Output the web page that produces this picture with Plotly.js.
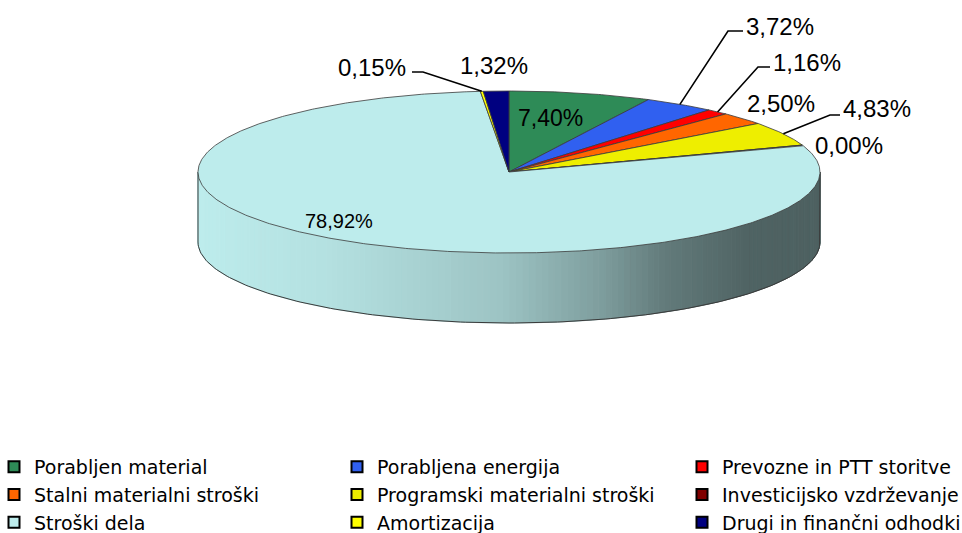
<!DOCTYPE html>
<html>
<head>
<meta charset="utf-8">
<script src="https://cdn.plot.ly/plotly-3.0.1.min.js"></script>
<style>html,body{margin:0;padding:0;background:#fff;}#chart{width:962px;height:533px;}</style>
</head>
<body>
<div id="chart"></div>
<script>
// ---- data ----
const categories = ['Porabljen material', 'Porabljena energija', 'Prevozne in PTT storitve',
  'Stalni materialni stroški', 'Programski materialni stroški', 'Investicijsko vzdrževanje',
  'Stroški dela', 'Amortizacija', 'Drugi in finančni odhodki'];
const shares = [7.40, 3.72, 1.16, 2.50, 4.83, 0.00, 78.92, 0.15, 1.32];

// ---- style ----
const sliceColors = ['#2e8b57', '#3060f0', '#ff0000', '#ff6600', '#eeee00', '#800000', '#bdecec', '#ffff00', '#000080'];
const CX = 509, CY = 172, RX = 311, RY = 81, DEPTH = 70;
const OUTLINE = '#3a3a3a';
// shading of the cylinder wall along x (u = -1 left .. 1 right)
const shadeStops = [[-1, 1.0], [-0.58, 0.95], [-0.03, 0.83], [0.29, 0.67], [0.5, 0.52], [0.77, 0.42], [1, 0.41]];
const labelPlacement = [
  {x: 550, y: 118, size: 23},
  {x: 744, y: 26, anchor: 'left', elbow: [728, 31], end: [743, 31]},
  {x: 771, y: 62, anchor: 'left', elbow: [758, 67], end: [770, 67]},
  {x: 781, y: 103},
  {x: 841, y: 108, anchor: 'left', elbow: [830, 115], end: [840, 115]},
  {x: 849, y: 145},
  {x: 339, y: 221, size: 20},
  {x: 408, y: 67, anchor: 'right', elbow: [423, 72], end: [412, 72]},
  {x: 494, y: 65}
];
const legendCols = [
  {name: 'legend', x: -6},
  {name: 'legend2', x: 337},
  {name: 'legend3', x: 682}
];
const LEGEND_TOP = 448;

// ---- geometry helpers ----
const D2R = Math.PI / 180;
function topPt(t) { return [CX + RX * Math.sin(t * D2R), CY - RY * Math.cos(t * D2R)]; }
function bottomPt(t) { const p = topPt(t); return [p[0], p[1] + DEPTH]; }
function shade(u) {
  for (let i = 1; i < shadeStops.length; i++) {
    if (u <= shadeStops[i][0]) {
      const [u0, f0] = shadeStops[i - 1], [u1, f1] = shadeStops[i];
      return f0 + (f1 - f0) * (u - u0) / (u1 - u0);
    }
  }
  return shadeStops[shadeStops.length - 1][1];
}
function scaleColor(hex, f) {
  const n = parseInt(hex.slice(1), 16);
  const r = Math.round(((n >> 16) & 255) * f), g = Math.round(((n >> 8) & 255) * f), b = Math.round((n & 255) * f);
  return 'rgb(' + r + ',' + g + ',' + b + ')';
}

const total = shares.reduce((a, b) => a + b, 0);
const starts = [], ends = [];
let acc = 0;
shares.forEach(v => { starts.push(acc / total * 360); acc += v; ends.push(acc / total * 360); });

const traces = [];

// cylinder wall (front half only, 90..270 deg)
shares.forEach((v, i) => {
  const a0 = Math.max(starts[i], 90), a1 = Math.min(ends[i], 270);
  if (a1 <= a0) return;
  const n = Math.max(1, Math.ceil((a1 - a0) / 1.2));
  for (let k = 0; k < n; k++) {
    const t0 = a0 + (a1 - a0) * k / n, t1 = a0 + (a1 - a0) * (k + 1) / n;
    const xs = [], ys = [];
    for (let j = 0; j <= 3; j++) { const p = topPt(t0 + (t1 - t0) * j / 3); xs.push(p[0]); ys.push(p[1]); }
    for (let j = 3; j >= 0; j--) { const p = bottomPt(t0 + (t1 - t0) * j / 3); xs.push(p[0]); ys.push(p[1]); }
    xs.push(xs[0]); ys.push(ys[0]);
    const c = scaleColor(sliceColors[i], shade(Math.sin((t0 + t1) / 2 * D2R)));
    traces.push({x: xs, y: ys, type: 'scatter', mode: 'lines', fill: 'toself', fillcolor: c,
      line: {color: c, width: 1}, hoverinfo: 'skip', showlegend: false});
  }
});

// wall outline
(function () {
  const xs = [], ys = [];
  let p = topPt(90); xs.push(p[0]); ys.push(p[1]);
  for (let t = 90; t <= 270; t += 1) { p = bottomPt(t); xs.push(p[0]); ys.push(p[1]); }
  p = topPt(270); xs.push(p[0]); ys.push(p[1]);
  traces.push({x: xs, y: ys, type: 'scatter', mode: 'lines', line: {color: OUTLINE, width: 1},
    hoverinfo: 'skip', showlegend: false});
})();

// top surface slices
shares.forEach((v, i) => {
  const xs = [CX], ys = [CY];
  const n = Math.max(1, Math.ceil((ends[i] - starts[i]) / 0.5));
  for (let k = 0; k <= n; k++) { const p = topPt(starts[i] + (ends[i] - starts[i]) * k / n); xs.push(p[0]); ys.push(p[1]); }
  xs.push(CX); ys.push(CY);
  traces.push({x: xs, y: ys, type: 'scatter', mode: 'lines', fill: 'toself', fillcolor: sliceColors[i],
    line: {color: OUTLINE, width: 0.8}, name: categories[i], hoverinfo: 'name', showlegend: false});
});

// labels and leader lines
const annotations = [];
shares.forEach((v, i) => {
  const L = labelPlacement[i];
  const txt = v.toFixed(2).replace('.', ',') + '%';
  annotations.push({x: L.x, y: L.y, xref: 'x', yref: 'y', text: txt, showarrow: false,
    xanchor: L.anchor || 'center', yanchor: 'middle',
    font: {family: 'Liberation Sans, Arial, sans-serif', size: L.size || 24, color: '#000'}});
  if (L.elbow) {
    const p = topPt((starts[i] + ends[i]) / 2);
    traces.push({x: [p[0], L.elbow[0], L.end[0]], y: [p[1], L.elbow[1], L.end[1]], type: 'scatter',
      mode: 'lines', line: {color: '#000', width: 1.6}, hoverinfo: 'skip', showlegend: false});
  }
});

// legend entries
categories.forEach((c, i) => {
  traces.push({x: [null], y: [null], type: 'scatter', mode: 'markers', name: c,
    legend: legendCols[i % 3].name,
    marker: {symbol: 'square', size: 11, color: sliceColors[i], line: {color: '#000', width: 2}},
    hoverinfo: 'skip', showlegend: true});
});

const legendBase = {orientation: 'v', yanchor: 'top', xanchor: 'left', y: 1 - LEGEND_TOP / 533,
  bgcolor: 'rgba(0,0,0,0)', borderwidth: 0, tracegroupgap: 0,
  font: {family: 'DejaVu Sans, sans-serif', size: 19, color: '#000'}};
const layout = {
  width: 962, height: 533,
  margin: {l: 0, r: 0, t: 0, b: 0, autoexpand: false},
  paper_bgcolor: '#fff', plot_bgcolor: '#fff',
  xaxis: {range: [0, 962], visible: false, fixedrange: true},
  yaxis: {range: [533, 0], visible: false, fixedrange: true},
  showlegend: true,
  annotations: annotations
};
legendCols.forEach(col => { layout[col.name] = Object.assign({}, legendBase, {x: col.x / 962}); });

Plotly.newPlot('chart', traces, layout, {displayModeBar: false, staticPlot: true});
</script>
</body>
</html>
